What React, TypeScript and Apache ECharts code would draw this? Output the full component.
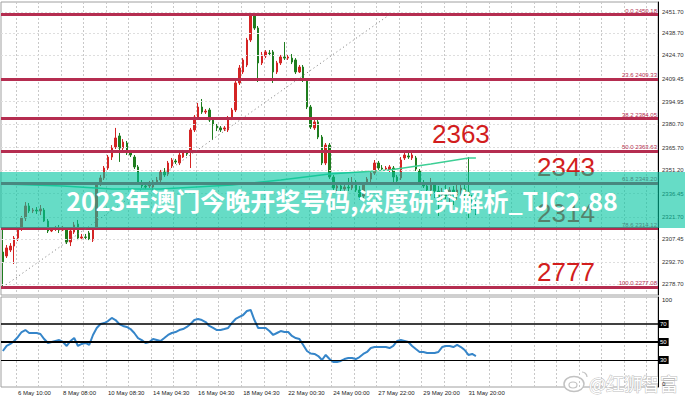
import React, { useEffect, useRef } from "react";
import * as echarts from "echarts";

// Bar slots across the plot (candles plus the empty space on the right)
const slotCount = 175;
const slots = Array.from({ length: slotCount }, (_, i) => String(i));

// Time axis labels: one every 12 bars, starting at slot 4
const timeLabels = [
  "6 May 10:00", "8 May 08:00", "10 May 08:30", "14 May 04:30", "16 May 04:30",
  "18 May 04:30", "22 May 00:30", "24 May 00:00", "27 May 22:00", "29 May 20:00", "31 May 20:00",
];
const firstLabelSlot = 4;
const slotsPerLabel = 12;
const slotsPerGridLine = 6;

// [open, close, low, high]
const ohlc: number[][] = [
  [2299.3, 2293.0, 2277.08, 2313.3],
  [2296.8, 2301.9, 2295.5, 2303.8],
  [2300.6, 2303.1, 2299.3, 2305.0],
  [2303.1, 2308.2, 2291.7, 2309.5],
  [2308.2, 2314.0, 2306.3, 2315.2],
  [2314.0, 2320.9, 2312.7, 2322.2],
  [2320.9, 2328.6, 2319.0, 2331.1],
  [2328.6, 2325.4, 2324.1, 2330.5],
  [2325.4, 2326.0, 2324.1, 2327.3],
  [2326.0, 2325.4, 2323.5, 2327.9],
  [2325.4, 2326.7, 2322.8, 2329.2],
  [2326.0, 2319.0, 2318.4, 2327.3],
  [2319.0, 2312.7, 2311.4, 2320.3],
  [2312.7, 2313.3, 2312.0, 2314.6],
  [2314.0, 2314.6, 2312.7, 2315.9],
  [2314.0, 2313.3, 2311.4, 2316.5],
  [2313.3, 2314.6, 2312.7, 2315.9],
  [2314.6, 2305.7, 2304.4, 2315.2],
  [2305.7, 2312.7, 2303.1, 2314.0],
  [2312.0, 2316.5, 2310.8, 2318.4],
  [2317.1, 2308.2, 2306.9, 2319.7],
  [2308.2, 2308.9, 2306.9, 2310.8],
  [2308.9, 2308.6, 2307.6, 2310.8],
  [2311.4, 2307.6, 2306.9, 2312.7],
  [2306.9, 2314.0, 2305.7, 2315.2],
  [2314.0, 2341.9, 2313.3, 2343.2],
  [2342.6, 2346.4, 2341.3, 2348.3],
  [2346.4, 2352.7, 2345.1, 2354.0],
  [2352.7, 2359.7, 2351.5, 2361.0],
  [2359.7, 2365.4, 2357.8, 2367.3],
  [2366.1, 2371.8, 2364.8, 2378.2],
  [2373.1, 2365.4, 2356.6, 2375.0],
  [2365.4, 2369.2, 2362.9, 2371.1],
  [2368.6, 2362.3, 2361.0, 2369.9],
  [2362.9, 2361.0, 2359.7, 2364.2],
  [2359.7, 2353.4, 2352.1, 2361.0],
  [2353.4, 2343.8, 2342.6, 2354.6],
  [2343.2, 2341.3, 2340.0, 2345.1],
  [2341.3, 2340.6, 2339.4, 2343.2],
  [2341.3, 2342.6, 2340.0, 2344.5],
  [2340.6, 2343.8, 2338.7, 2345.1],
  [2343.8, 2345.1, 2342.6, 2347.0],
  [2345.1, 2350.2, 2343.8, 2351.5],
  [2350.2, 2348.3, 2347.0, 2352.7],
  [2348.9, 2355.9, 2347.6, 2357.2],
  [2354.0, 2357.8, 2352.7, 2359.1],
  [2357.2, 2356.6, 2355.3, 2358.5],
  [2355.9, 2361.0, 2354.6, 2362.3],
  [2359.7, 2362.9, 2359.1, 2364.2],
  [2362.3, 2361.6, 2360.4, 2363.5],
  [2362.9, 2376.9, 2352.7, 2378.2],
  [2376.9, 2385.1, 2375.6, 2386.4],
  [2385.1, 2391.5, 2383.9, 2394.1],
  [2391.5, 2388.3, 2387.1, 2396.6],
  [2388.3, 2388.9, 2387.1, 2390.2],
  [2389.6, 2383.2, 2382.0, 2390.9],
  [2383.2, 2380.1, 2370.5, 2384.5],
  [2379.4, 2378.2, 2376.2, 2380.7],
  [2378.2, 2376.9, 2375.6, 2379.4],
  [2377.5, 2378.2, 2376.2, 2379.4],
  [2376.9, 2384.5, 2375.6, 2385.8],
  [2384.5, 2389.6, 2383.2, 2390.9],
  [2389.6, 2406.8, 2388.3, 2408.0],
  [2406.8, 2416.3, 2405.5, 2418.2],
  [2413.8, 2421.4, 2412.5, 2422.6],
  [2418.2, 2434.1, 2416.9, 2435.4],
  [2434.1, 2450.0, 2432.8, 2450.18],
  [2450.0, 2441.7, 2440.5, 2449.4],
  [2441.7, 2419.5, 2407.4, 2443.0],
  [2419.5, 2424.6, 2418.2, 2426.5],
  [2423.9, 2426.5, 2422.6, 2427.7],
  [2425.8, 2425.5, 2423.9, 2427.7],
  [2426.5, 2413.8, 2406.8, 2427.7],
  [2413.8, 2419.5, 2412.5, 2420.8],
  [2419.5, 2423.3, 2418.2, 2424.6],
  [2423.3, 2422.6, 2421.4, 2432.8],
  [2422.6, 2423.3, 2421.4, 2424.6],
  [2422.6, 2420.1, 2418.8, 2425.2],
  [2421.4, 2413.8, 2412.5, 2422.6],
  [2413.8, 2416.9, 2413.1, 2418.2],
  [2416.9, 2408.7, 2407.4, 2418.2],
  [2408.7, 2391.5, 2390.2, 2409.9],
  [2391.5, 2378.8, 2377.5, 2392.8],
  [2378.2, 2382.0, 2376.9, 2383.2],
  [2382.0, 2372.4, 2371.1, 2383.2],
  [2372.4, 2355.9, 2354.6, 2373.7],
  [2355.9, 2367.3, 2354.6, 2368.6],
  [2367.3, 2347.0, 2345.7, 2368.6],
  [2347.0, 2340.0, 2338.7, 2348.3],
  [2340.0, 2341.3, 2337.5, 2343.2],
  [2341.3, 2339.4, 2336.8, 2343.2],
  [2339.4, 2340.6, 2337.5, 2342.6],
  [2340.6, 2340.0, 2338.1, 2346.4],
  [2340.0, 2343.8, 2338.7, 2347.0],
  [2343.8, 2338.7, 2337.5, 2345.1],
  [2338.7, 2334.3, 2332.4, 2341.3],
  [2334.9, 2342.6, 2333.6, 2343.8],
  [2343.2, 2345.7, 2341.9, 2347.0],
  [2345.7, 2349.5, 2343.2, 2350.8],
  [2349.5, 2355.9, 2348.3, 2357.8],
  [2355.9, 2352.7, 2351.5, 2357.2],
  [2352.7, 2352.1, 2350.8, 2354.6],
  [2352.1, 2352.7, 2350.8, 2354.0],
  [2351.5, 2353.4, 2350.2, 2354.6],
  [2352.7, 2347.0, 2343.2, 2354.0],
  [2347.0, 2344.5, 2342.6, 2348.3],
  [2346.4, 2357.8, 2345.1, 2359.7],
  [2359.1, 2361.0, 2357.8, 2362.3],
  [2360.4, 2359.7, 2358.5, 2362.3],
  [2359.1, 2361.0, 2357.8, 2362.3],
  [2359.1, 2352.1, 2350.8, 2360.4],
  [2350.8, 2343.2, 2341.9, 2352.1],
  [2343.2, 2341.3, 2340.0, 2345.1],
  [2341.3, 2338.7, 2336.8, 2343.8],
  [2338.7, 2341.9, 2334.9, 2346.4],
  [2341.9, 2338.1, 2333.6, 2343.8],
  [2338.1, 2333.6, 2322.2, 2341.3],
  [2334.3, 2337.5, 2332.4, 2340.0],
  [2337.5, 2334.9, 2333.0, 2341.9],
  [2334.9, 2338.7, 2330.5, 2340.6],
  [2338.7, 2335.6, 2329.2, 2341.3],
  [2335.6, 2338.7, 2332.4, 2341.9],
  [2338.7, 2340.0, 2334.3, 2343.2],
  [2339.4, 2336.8, 2332.4, 2341.9],
  [2337.5, 2333.6, 2320.9, 2359.7],
  [2333.6, 2329.2, 2326.0, 2335.6],
  [2329.2, 2324.37, 2322.8, 2332.4],
];

// Moving average, read at selected bars
const maPoints: [string, number][] = [
  ["0", 2342.6], ["16", 2341.3], ["29", 2339.4], ["42", 2339.4], ["61", 2341.9],
  ["74", 2345.1], ["87", 2348.9], ["103", 2351.5], ["114", 2355.3], ["124", 2359.1], ["126", 2359.1],
];

// RSI per bar
const rsi: number[] = [
  40.0, 45.6, 47.8, 51.1, 55.6, 61.1, 63.3, 60.0, 60.0, 60.0,
  58.9, 53.3, 48.9, 50.0, 51.1, 52.2, 50.0, 45.6, 51.1, 54.4,
  45.6, 47.8, 48.9, 46.7, 57.8, 65.6, 70.0, 71.1, 73.3, 76.7,
  74.4, 70.0, 67.8, 66.7, 64.4, 60.0, 54.4, 52.2, 48.9, 50.0,
  53.3, 52.2, 51.1, 54.4, 57.8, 60.0, 61.1, 63.3, 64.4, 66.7,
  70.0, 74.4, 75.6, 74.4, 72.2, 67.8, 65.6, 63.3, 63.3, 64.4,
  65.6, 71.1, 75.6, 77.8, 80.0, 84.4, 85.6, 74.4, 65.6, 65.6,
  65.6, 62.2, 57.8, 60.0, 62.2, 61.1, 61.1, 56.7, 54.4, 53.3,
  46.7, 40.0, 37.2, 36.7, 34.4, 30.0, 35.6, 31.1, 27.8, 27.8,
  28.9, 31.1, 32.2, 32.2, 31.1, 33.3, 36.7, 38.9, 43.3, 44.4,
  44.4, 44.4, 44.4, 43.3, 45.6, 51.1, 52.2, 51.1, 50.0, 45.6,
  42.2, 38.9, 38.9, 37.8, 37.8, 37.8, 38.9, 44.4, 45.6, 45.6,
  44.4, 46.7, 44.4, 41.1, 35.6, 36.7, 34.4,
];

// Price scale labels on the right
const priceTicks = [2451.7, 2438.7, 2424.7, 2409.45, 2394.95, 2380.7, 2365.7, 2351.2, 2336.45, 2321.7, 2307.45, 2292.7, 2278.7];

// Fibonacci retracement levels
const fibRatios = ["0.0", "23.6", "38.2", "50.0", "61.8", "78.6", "100.0"];
const fibPrices = [2450.18, 2409.33, 2384.05, 2363.63, 2343.2, 2314.12, 2277.08];
const extensionName = "FE 100.0";
const extensionPrice = 2301.0;
const trendStart: [string, number] = ["0", 2277.08];
const trendEnd: [string, number] = ["103", 2450.18];

// Big handwritten-style notes next to the levels
const noteTexts = ["2363", "2343", "2314", "2777"];
const noteSlots = ["122", "150", "150", "150"];
const notePrices = [2374.3, 2353.4, 2324.1, 2286.6];

const rsiLevels = [70, 50, 30];
const rsiLevelWidths = [1.5, 2.2, 1.2];

const bannerText = "2023年澳门今晚开奖号码,深度研究解析_TJC2.88";
const watermarkText = "@红狮智富";

const FONT = "Liberation Sans, Arial, sans-serif";
const UP = "#d42424";
const DOWN = "#1f7d1f";
const FIB = "#b52d50";

export default function App() {
  const ref = useRef<HTMLDivElement>(null);

  useEffect(() => {
    if (!ref.current) return;
    const chart = echarts.init(ref.current, null, { renderer: "svg" });
    const lastClose = ohlc[ohlc.length - 1][1];

    const gridInterval = (i: number) => i >= firstLabelSlot && (i - firstLabelSlot) % slotsPerGridLine === 0;
    const labelInterval = (i: number) => i >= firstLabelSlot && (i - firstLabelSlot) % slotsPerLabel === 0;
    const splitLine = { show: true, interval: gridInterval, lineStyle: { color: "#c8c8c8", type: [2, 2], width: 1 } };

    const option: any = {
      animation: false,
      backgroundColor: "#ffffff",
      grid: [
        { left: 1, top: 2, width: 657, height: 293, show: true, borderColor: "#a0a0a0", borderWidth: 1, containLabel: false, outerBoundsMode: "none" },
        { left: 1, top: 297, width: 657, height: 90, show: true, borderColor: "#a0a0a0", borderWidth: 1, containLabel: false, outerBoundsMode: "none" },
      ],
      xAxis: [
        {
          type: "category", gridIndex: 0, data: slots, boundaryGap: true,
          axisLine: { show: false }, axisTick: { show: false }, axisLabel: { show: false }, splitLine,
        },
        {
          type: "category", gridIndex: 1, data: slots, boundaryGap: true,
          axisLine: { show: false }, axisTick: { show: false }, splitLine,
          axisLabel: {
            show: true, interval: labelInterval, align: "left", margin: 3, fontSize: 6, color: "#222", fontFamily: FONT,
            formatter: (v: string) => {
              const i = Number(v);
              const k = (i - firstLabelSlot) / slotsPerLabel;
              return timeLabels[k] ?? "";
            },
          },
        },
      ],
      yAxis: [
        {
          type: "value", gridIndex: 0, position: "right", min: 2272.0, max: 2458.25,
          axisLine: { show: true, lineStyle: { color: "#000", width: 1 } },
          axisTick: { show: false }, axisLabel: { show: false }, splitLine: { show: false },
        },
        {
          type: "value", gridIndex: 1, position: "right", min: 0, max: 100, interval: 100,
          axisLine: { show: true, lineStyle: { color: "#000", width: 1 } },
          axisTick: { show: false }, splitLine: { show: false },
          axisLabel: {
            show: true, fontSize: 6, color: "#222", margin: 4, fontFamily: FONT,
            verticalAlignMaxLabel: "top", verticalAlignMinLabel: "bottom",
          },
        },
      ],
      series: [
        // price scale labels with their dashed guide lines
        {
          type: "line", xAxisIndex: 0, yAxisIndex: 0, data: [], z: 1, silent: true,
          markLine: {
            silent: true, symbol: "none", animation: false,
            lineStyle: { type: [2, 2], color: "#dedede", width: 1 },
            label: {
              position: "end", distance: 4, fontSize: 6, color: "#333", fontFamily: FONT,
              formatter: (p: any) => Number(p.value).toFixed(2),
            },
            data: priceTicks.map((v) => ({ yAxis: v })),
          },
        },
        {
          type: "candlestick", xAxisIndex: 0, yAxisIndex: 0, data: ohlc, barWidth: 2, z: 2,
          itemStyle: { color: UP, color0: DOWN, borderColor: UP, borderColor0: DOWN, borderWidth: 1 },
          markLine: {
            silent: true, symbol: "none", animation: false,
            lineStyle: { opacity: 0 },
            label: {
              position: "end", distance: 0, fontSize: 6, color: "#fff", backgroundColor: "#111",
              padding: [2, 3, 2, 2], fontFamily: FONT,
              formatter: (p: any) => Number(p.value).toFixed(2),
            },
            data: [{ yAxis: lastClose }],
          },
          markPoint: {
            silent: true, symbol: "circle", symbolSize: 0,
            label: { show: true, position: "inside", fontSize: 26, color: "#d21d1d", fontFamily: FONT, formatter: (p: any) => p.name },
            data: noteTexts.map((t, i) => ({ name: t, coord: [noteSlots[i], notePrices[i]] })),
          },
        },
        {
          type: "line", xAxisIndex: 0, yAxisIndex: 0, data: maPoints, symbol: "none", connectNulls: true, z: 3,
          lineStyle: { color: "#3dcf95", width: 1.5 },
        },
        // Fibonacci levels and base line
        {
          type: "line", xAxisIndex: 0, yAxisIndex: 0, data: [], z: 4, silent: true,
          markLine: {
            silent: true, symbol: "none", animation: false,
            lineStyle: { type: "solid", color: FIB, width: 3 },
            label: {
              position: "insideEndTop", distance: 1, fontSize: 6, color: FIB, fontFamily: FONT,
              formatter: (p: any) => `${p.name} ${Number(p.value).toFixed(2)}`,
            },
            data: [
              ...fibPrices.map((v, i) => ({ yAxis: v, name: fibRatios[i] })),
              {
                yAxis: extensionPrice, name: extensionName, lineStyle: { opacity: 0 },
                label: { position: "insideEnd", color: "#333" },
              },
              [
                { coord: trendStart, lineStyle: { type: [1, 3], color: "#777", width: 1 }, label: { show: false } },
                { coord: trendEnd },
              ],
            ],
          },
        },
        // RSI panel
        {
          type: "line", xAxisIndex: 1, yAxisIndex: 1, data: rsi, symbol: "none", z: 3,
          lineStyle: { color: "#3585c9", width: 2 },
          markLine: {
            silent: true, symbol: "none", animation: false,
            label: {
              position: "end", distance: 0, fontSize: 6, color: "#fff", backgroundColor: "#000",
              padding: [1, 2, 1, 2], fontFamily: FONT,
            },
            data: rsiLevels.map((v, i) => ({ yAxis: v, lineStyle: { color: "#000", width: rsiLevelWidths[i], type: "solid" } })),
          },
        },
      ],
      graphic: [
        {
          type: "rect", z: 100, silent: true,
          shape: { x: 0, y: 172, width: 685, height: 56 },
          style: { fill: "rgba(0,196,160,0.6)" },
        },
        {
          type: "text", z: 101, silent: true, x: 342, y: 200,
          style: {
            text: bannerText, fill: "#ffffff", fontSize: 25, fontWeight: "bold",
            fontFamily: "Noto Sans CJK SC, Noto Sans, sans-serif", align: "center", verticalAlign: "middle",
          },
        },
        {
          type: "group", z: 90, silent: true,
          children: [
            { type: "ellipse", shape: { cx: 574, cy: 384, rx: 10, ry: 7.5 }, style: { fill: "#fff", stroke: "#c2c2c2", lineWidth: 1.5 } },
            { type: "ellipse", shape: { cx: 573, cy: 385, rx: 4, ry: 3 }, style: { fill: "none", stroke: "#c2c2c2", lineWidth: 1.2 } },
            { type: "arc", shape: { cx: 582, cy: 377, r: 5, startAngle: -Math.PI / 2, endAngle: 0 }, style: { stroke: "#c2c2c2", lineWidth: 1.2 } },
            {
              type: "text", x: 589, y: 383,
              style: {
                text: watermarkText, fill: "#ffffff", stroke: "#bdbdbd", lineWidth: 1, fontSize: 18,
                fontFamily: "Noto Sans CJK SC, sans-serif", align: "left", verticalAlign: "middle",
              },
            },
          ],
        },
      ],
    };

    chart.setOption(option);
    return () => chart.dispose();
  }, []);

  return <div ref={ref} style={{ position: "fixed", left: 0, top: 0, width: 685, height: 400 }} />;
}
